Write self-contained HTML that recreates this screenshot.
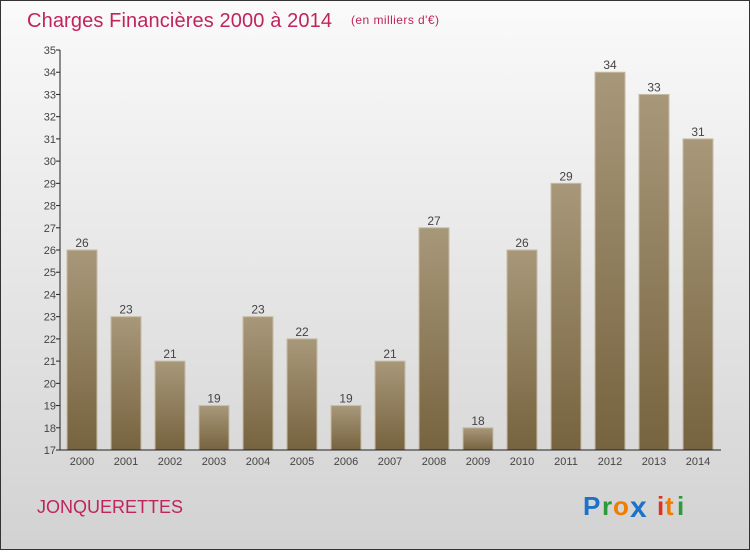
<!DOCTYPE html>
<html><head><meta charset="utf-8"><style>
body{margin:0;width:750px;height:550px;overflow:hidden;font-family:"Liberation Sans",sans-serif}
</style></head><body>
<svg width="750" height="550" xmlns="http://www.w3.org/2000/svg">
<defs>
<linearGradient id="bg" x1="0" y1="0" x2="0" y2="1"><stop offset="0" stop-color="#fafafa"/><stop offset="1" stop-color="#d2d2d2"/></linearGradient>
<linearGradient id="bar" x1="0" y1="0" x2="0" y2="1"><stop offset="0" stop-color="#a8987a"/><stop offset="1" stop-color="#76633f"/></linearGradient>
</defs>
<rect x="0.5" y="0.5" width="749" height="549" fill="url(#bg)" stroke="#333"/>
<text x="27" y="27" font-size="20" fill="#c0245c" textLength="305">Charges Financières 2000 à 2014</text>
<text x="351" y="24" font-size="12" fill="#c0245c" textLength="88">(en milliers d'€)</text>
<g id="plot"></g>
<text x="37" y="513" font-size="18" fill="#c0245c">JONQUERETTES</text>
<g font-size="26" font-weight="bold">
<text x="583" y="515" fill="#1a73c9">P</text><text x="602" y="515" fill="#2e9a3e">r</text><text x="613" y="515" fill="#f07c00">o</text><text x="630" y="517" fill="#1a73c9" font-size="30">x</text><text x="657" y="515" fill="#e03020">i</text><text x="665" y="515" fill="#f07c00">t</text><text x="677" y="515" fill="#2e9a3e">i</text>
</g>
</svg>
<script>
const years=["2000","2001","2002","2003","2004","2005","2006","2007","2008","2009","2010","2011","2012","2013","2014"];
const values=[26,23,21,19,23,22,19,21,27,18,26,29,34,33,31];
const yTicks=[17,18,19,20,21,22,23,24,25,26,27,28,29,30,31,32,33,34,35];
const NS="http://www.w3.org/2000/svg";
const g=document.getElementById('plot');
const yMin=17,yMax=35,plotTop=50,plotBot=450;
const yS=v=>plotBot-(v-yMin)/(yMax-yMin)*(plotBot-plotTop);
const xS=i=>67+i*44;
function el(t,a){const e=document.createElementNS(NS,t);for(const k in a)e.setAttribute(k,a[k]);g.appendChild(e);return e;}
yTicks.forEach(t=>{
 const l=el('line',{x1:56,x2:60,y1:yS(t),y2:yS(t),stroke:'#222'});
 
 
 const tx=el('text',{x:56,y:yS(t)+4,'font-size':11,'text-anchor':'end',fill:'#444'});tx.textContent=t;
 
 
});
values.forEach((v,i)=>{
 const r=el('rect',{x:xS(i),y:yS(v),width:30,height:plotBot-yS(v),fill:'url(#bar)',stroke:'#c8bca4','stroke-width':1});
 
 
 const t=el('text',{x:xS(i)+15,y:yS(v)-3,'font-size':12,'text-anchor':'middle',fill:'#444'});t.textContent=v;
 
 
 const xl=el('text',{x:xS(i)+15,y:465,'font-size':11,'text-anchor':'middle',fill:'#444'});xl.textContent=years[i];
 
 
});
const ya=el('line',{x1:60,x2:60,y1:plotTop,y2:plotBot,stroke:'#222'});


const xa=el('line',{x1:60,x2:721,y1:plotBot,y2:plotBot,stroke:'#222'});


</script>
</body></html>
